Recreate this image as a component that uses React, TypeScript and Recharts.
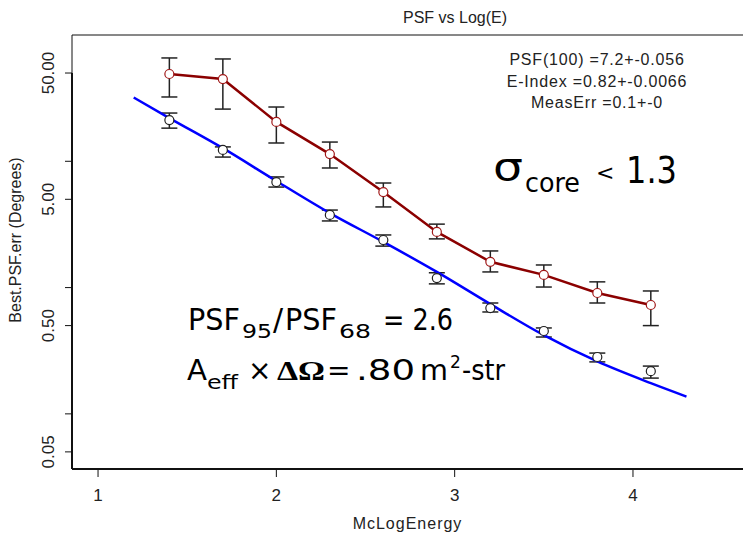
import React from 'react';
import { ComposedChart, Line, Scatter, XAxis, YAxis, ErrorBar, ReferenceLine } from 'recharts';

// McLogEnergy bins
const energy = [1.4, 1.7, 2.0, 2.3, 2.6, 2.9, 3.2, 3.5, 3.8, 4.1];

// 95% containment (red) with error bar ends
const psf95 = [49.1, 44.8, 20.5, 11.4, 5.71, 2.76, 1.6, 1.26, 0.906, 0.728];
const psf95Lo = [32.3, 25.9, 13.96, 8.85, 4.35, 2.43, 1.33, 1.01, 0.755, 0.5];
const psf95Hi = [65.8, 64.6, 26.9, 14.2, 6.73, 3.18, 1.95, 1.51, 1.11, 0.94];

// 68% containment (black circles) with error bar ends
const psf68 = [21.2, 12.3, 6.85, 3.76, 2.38, 1.19, 0.688, 0.453, 0.282, 0.218];
const psf68Lo = [18.3, 10.8, 6.25, 3.37, 2.13, 1.07, 0.641, 0.406, 0.258, 0.192];
const psf68Hi = [24.1, 13.0, 7.52, 4.11, 2.61, 1.31, 0.755, 0.479, 0.303, 0.239];

// fitted curve
const fitEnergy = [1.2, 1.4, 1.7, 2.0, 2.3, 2.6, 2.9, 3.2, 3.5, 3.8, 4.1, 4.3];
const fitPsf = [32, 22.0, 12.7, 6.98, 3.89, 2.3, 1.33, 0.74, 0.42, 0.26, 0.175, 0.137];

const xTicks = [1, 2, 3, 4];
const yTicks = [0.05, 0.1, 0.5, 1, 5, 10, 50];
const yLabelled = [0.05, 0.5, 5, 50];
const xDomain = [0.854, 4.617];
const yDomain = [0.0366, 100];

const fitInfo = ['PSF(100) =7.2+-0.056', 'E-Index =0.82+-0.0066', 'MeasErr =0.1+-0'];

const SANS = "'Liberation Sans', Arial, sans-serif";
const NARROW = "'Liberation Sans Narrow', 'Liberation Sans', Arial, sans-serif";
const COMIC = "'Comic Sans MS', 'DejaVu Sans', sans-serif";

const withErr = (vals: number[], lo: number[], hi: number[]) =>
  energy.map((x, i) => ({ x, y: vals[i], err: [vals[i] - lo[i], hi[i] - vals[i]] }));

const red = withErr(psf95, psf95Lo, psf95Hi);
const black = withErr(psf68, psf68Lo, psf68Hi);
const fit = fitEnergy.map((x, i) => ({ x, y: fitPsf[i] }));

function YTick(props: any) {
  const { x, y, payload } = props;
  if (!yLabelled.includes(payload.value)) return <g />;
  const cx = x - 9;
  return (
    <text x={cx} y={y} transform={`rotate(-90, ${cx}, ${y})`} textAnchor="middle"
      fontFamily={NARROW} fontSize={17} fill="#222">
      {payload.value.toFixed(2)}
    </text>
  );
}

const redDot = (p: any) => <circle cx={p.cx} cy={p.cy} r={4.5} fill="#fff" stroke="#a01818" strokeWidth={1.2} />;
const blackDot = (p: any) => <circle cx={p.cx} cy={p.cy} r={4.5} fill="#fff" stroke="#222" strokeWidth={1.2} />;

export default function App() {
  return (
    <div style={{ position: 'absolute', left: 0, top: 0, width: 743, height: 536, background: '#fff' }}>
      <ComposedChart width={743} height={536} margin={{ top: 35, right: 0, bottom: 0, left: 0 }}>
        <XAxis
          type="number"
          dataKey="x"
          domain={xDomain}
          ticks={xTicks}
          allowDataOverflow
          height={67}
          axisLine={{ stroke: '#111', strokeWidth: 2 }}
          tickLine={{ stroke: '#111' }}
          tickSize={8}
          tickMargin={12}
          tick={{ fill: '#222', fontSize: 17, fontFamily: NARROW }}
          label={{ value: 'McLogEnergy', position: 'insideBottom', offset: 7, fill: '#222', fontSize: 16, fontFamily: SANS, letterSpacing: 1 }}
        />
        <YAxis
          type="number"
          scale="log"
          domain={yDomain}
          ticks={yTicks}
          allowDataOverflow
          width={72}
          axisLine={false}
          tickLine={{ stroke: '#111' }}
          tickSize={7}
          tick={<YTick />}
          label={{
            content: ({ viewBox }: any) => {
              const cx = 21;
              const cy = viewBox.y + viewBox.height / 2 - 12;
              return (
                <text x={cx} y={cy} transform={`rotate(-90, ${cx}, ${cy})`} textAnchor="middle"
                  fontFamily={SANS} fontSize={16} fill="#222">
                  Best.PSF.err (Degrees)
                </text>
              );
            },
          }}
        />
        <ReferenceLine y={yDomain[1]} stroke="#111" strokeWidth={1} />
        <ReferenceLine segment={[{ x: xDomain[0], y: yDomain[1] }, { x: xDomain[0], y: 50 }]} stroke="#111" strokeWidth={1} />
        <ReferenceLine segment={[{ x: xDomain[0], y: 50 }, { x: xDomain[0], y: yDomain[0] }]} stroke="#111" strokeWidth={2} />

        <Line data={red} dataKey="y" type="linear" stroke="#8b0000" strokeWidth={2.5} dot={false} activeDot={false} isAnimationActive={false} />
        <Scatter data={red} dataKey="y" shape={redDot} isAnimationActive={false}>
          <ErrorBar dataKey="err" direction="y" width={8} stroke="#222" strokeWidth={1.5} />
        </Scatter>
        <Scatter data={black} dataKey="y" shape={blackDot} isAnimationActive={false}>
          <ErrorBar dataKey="err" direction="y" width={8} stroke="#222" strokeWidth={1.5} />
        </Scatter>
        <Line data={fit} dataKey="y" type="monotone" stroke="#0000ff" strokeWidth={2.5} dot={false} activeDot={false} isAnimationActive={false} />
      </ComposedChart>

      <svg width={743} height={536} style={{ position: 'absolute', left: 0, top: 0, pointerEvents: 'none' }}>
        <text x={455} y={23} textAnchor="middle" fontFamily={SANS} fontSize={16} fill="#222">PSF vs Log(E)</text>
        {fitInfo.map((t, i) => (
          <text key={t} x={597} y={65 + i * 21.5} textAnchor="middle" fontFamily={SANS} fontSize={16} letterSpacing={0.8} fill="#222">{t}</text>
        ))}

        <text fontFamily={COMIC} fill="#000">
          <tspan x={493} y={180} fontSize={38} textLength={30} lengthAdjust="spacingAndGlyphs">σ</tspan>
          <tspan x={525} y={192} fontSize={26} textLength={55} lengthAdjust="spacingAndGlyphs">core</tspan>
          <tspan x={596} y={180} fontSize={22}>&lt;</tspan>
          <tspan x={626} y={183} fontSize={38} textLength={51} lengthAdjust="spacingAndGlyphs">1.3</tspan>
        </text>

        <text fontFamily={COMIC} fill="#000">
          <tspan x={188} y={330} fontSize={30} textLength={52} lengthAdjust="spacingAndGlyphs">PSF</tspan>
          <tspan x={242} y={338} fontSize={20} textLength={30} lengthAdjust="spacingAndGlyphs">95</tspan>
          <tspan x={273} y={330} fontSize={30}>/</tspan>
          <tspan x={285} y={330} fontSize={30} textLength={52} lengthAdjust="spacingAndGlyphs">PSF</tspan>
          <tspan x={339} y={338} fontSize={20} textLength={32} lengthAdjust="spacingAndGlyphs">68</tspan>
          <tspan x={383} y={330} fontSize={30} textLength={70} lengthAdjust="spacingAndGlyphs">= 2.6</tspan>
        </text>

        <text fontFamily={COMIC} fill="#000">
          <tspan x={187} y={380} fontSize={28} textLength={20} lengthAdjust="spacingAndGlyphs">A</tspan>
          <tspan x={207} y={389} fontSize={20} textLength={31} lengthAdjust="spacingAndGlyphs">eff</tspan>
          <tspan x={248} y={380} fontSize={28}>×</tspan>
          <tspan x={277} y={380} fontSize={28} fontFamily="'Liberation Serif', serif" fontWeight="bold" textLength={48} lengthAdjust="spacingAndGlyphs">ΔΩ</tspan>
          <tspan x={327} y={380} fontSize={28}>=</tspan>
          <tspan x={356} y={380} fontSize={28} textLength={59} lengthAdjust="spacingAndGlyphs">.80</tspan>
          <tspan x={420} y={380} fontSize={28} textLength={28} lengthAdjust="spacingAndGlyphs">m</tspan>
          <tspan x={450} y={368} fontSize={17}>2</tspan>
          <tspan x={462} y={380} fontSize={28} textLength={43} lengthAdjust="spacingAndGlyphs">-str</tspan>
        </text>
      </svg>
    </div>
  );
}
